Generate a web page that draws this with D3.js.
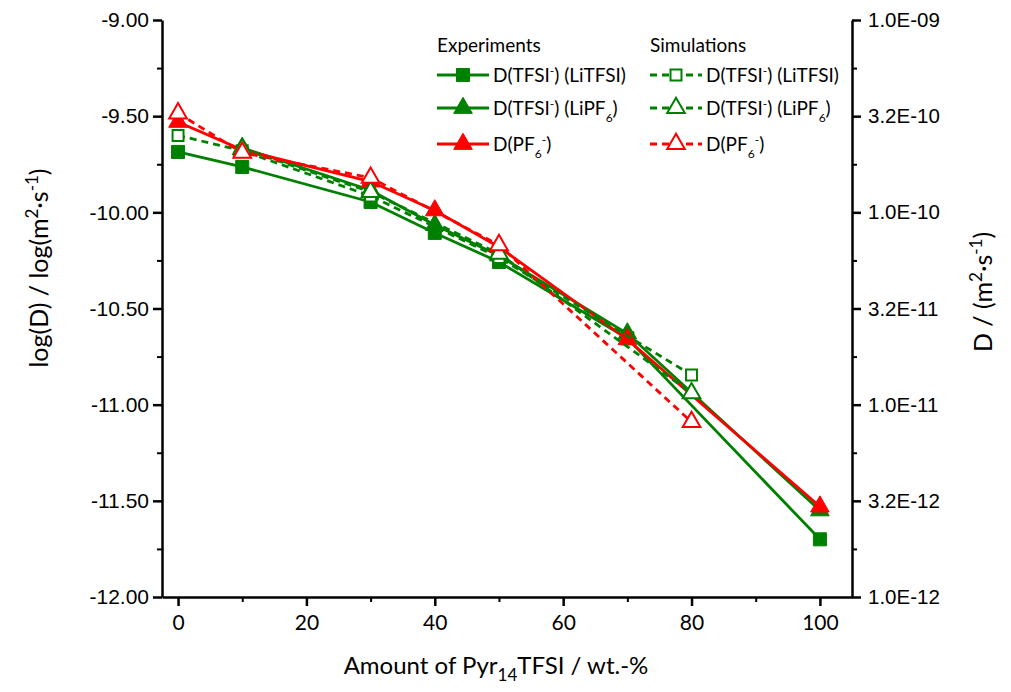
<!DOCTYPE html>
<html>
<head>
<meta charset="utf-8">
<script src="https://cdn.jsdelivr.net/npm/d3@7"></script>
<style>
  body { margin: 0; background: #fff; }
  svg { display: block; }
  .tick text { font-family: "Liberation Sans", Arial, sans-serif; }
</style>
</head>
<body>
<svg width="1011" height="692"></svg>
<script>
// ---- data (log10 D / m^2 s^-1) ----
var xExpLiTFSI = [0, 10, 30, 40, 50, 70, 100];
var yExpLiTFSI = [-9.686, -9.764, -9.946, -10.107, -10.258, -10.655, -11.70];

var xExpLiPF6 = [10, 30, 40, 50, 70, 100];
var yExpLiPF6 = [-9.665, -9.885, -10.066, -10.225, -10.63, -11.55];

var xExpPF6 = [0, 10, 30, 40, 50, 70, 100];
var yExpPF6 = [-9.53, -9.675, -9.84, -9.99, -10.18, -10.66, -11.53];

var xSimLiTFSI = [0, 10, 30, 50, 80];
var ySimLiTFSI = [-9.60, -9.68, -9.915, -10.235, -10.846];

var xSimLiPF6 = [10, 30, 50, 80];
var ySimLiPF6 = [-9.67, -9.894, -10.215, -10.94];

var xSimPF6 = [0, 10, 30, 50, 80];
var ySimPF6 = [-9.485, -9.69, -9.82, -10.17, -11.09];

var xTicks = [0, 20, 40, 60, 80, 100];
var yTicks = [-9, -9.5, -10, -10.5, -11, -11.5, -12];

var svg = d3.select("svg");
var green = "#008000", red = "#ff0000";

var x = d3.scaleLinear().domain([-2.5, 105]).range([162, 852]);
var y = d3.scaleLinear().domain([-12, -9]).range([597, 20]);
var yR = d3.scaleLog().domain([1e-12, 1e-9]).range([597, 20]);

// ---- axes ----
function styleAxis(g) {
    g.select(".domain").attr("stroke", "#000").attr("stroke-width", 2.5);
    g.selectAll(".tick line").attr("stroke", "#000").attr("stroke-width", 2.5);
    g.selectAll(".tick text").attr("fill", "#000");
}

var xMinor = svg.append("g").attr("transform", "translate(0,597)")
    .call(d3.axisBottom(x).tickValues([10, 30, 50, 70, 90]).tickSize(5).tickFormat(""));
xMinor.select(".domain").remove();
xMinor.selectAll(".tick line").attr("stroke", "#000").attr("stroke-width", 2);

var xAxis = svg.append("g").attr("transform", "translate(0,597)")
    .call(d3.axisBottom(x).tickValues(xTicks).tickSize(9).tickSizeOuter(0).tickPadding(9));
styleAxis(xAxis);
xAxis.selectAll(".tick text").style("font-family", "Lato, sans-serif").attr("font-size", 21);

var yMinor = svg.append("g").attr("transform", "translate(162,0)")
    .call(d3.axisLeft(y).tickValues([-9.25, -9.75, -10.25, -10.75, -11.25, -11.75]).tickSize(5).tickFormat(""));
yMinor.select(".domain").remove();
yMinor.selectAll(".tick line").attr("stroke", "#000").attr("stroke-width", 2);

var yAxis = svg.append("g").attr("transform", "translate(162,0)")
    .call(d3.axisLeft(y).tickValues(yTicks).tickSize(9).tickSizeOuter(0).tickPadding(4)
        .tickFormat(function(d) { return d.toFixed(2); }));
styleAxis(yAxis);
yAxis.selectAll(".tick text").attr("font-size", 21);

var rMajor = yTicks.map(function(v) { return Math.pow(10, v); });
var rMinor = [-9.25, -9.75, -10.25, -10.75, -11.25, -11.75].map(function(v) { return Math.pow(10, v); });

function sciFmt(d) {
    var e = Math.floor(Math.log10(d) + 1e-9);
    var m = d / Math.pow(10, e);
    var es = Math.abs(e) < 10 ? "0" + Math.abs(e) : "" + Math.abs(e);
    return m.toFixed(1) + "E" + (e < 0 ? "-" : "+") + es;
}

var rMin = svg.append("g").attr("transform", "translate(852,0)")
    .call(d3.axisRight(yR).tickValues(rMinor).tickSize(5).tickFormat(""));
rMin.select(".domain").remove();
rMin.selectAll(".tick line").attr("stroke", "#000").attr("stroke-width", 2);

var rAxis = svg.append("g").attr("transform", "translate(852,0)")
    .call(d3.axisRight(yR).tickValues(rMajor).tickSize(9).tickSizeOuter(0).tickPadding(7).tickFormat(sciFmt));
styleAxis(rAxis);
rAxis.selectAll(".tick text").attr("font-size", 20.5);

// ---- axis titles ----
var xt = svg.append("text").attr("x", 496).attr("y", 674).attr("text-anchor", "middle")
    .style("font-family", "Lato, sans-serif").attr("font-size", 24);
xt.append("tspan").text("Amount of Pyr");
xt.append("tspan").attr("font-size", 17).attr("dy", 7).text("14");
xt.append("tspan").attr("dy", -7).text("TFSI / wt.-%");

var lt = svg.append("text").attr("transform", "translate(48,268) rotate(-90)").attr("text-anchor", "middle")
    .style("font-family", "Lato, sans-serif").attr("font-size", 25);
lt.append("tspan").text("log(D) / log(m");
lt.append("tspan").attr("font-size", 17).attr("dy", -10).text("2");
lt.append("tspan").attr("dy", 10).text("\u00b7s");
lt.append("tspan").attr("font-size", 17).attr("dy", -10).text("-1");
lt.append("tspan").attr("dy", 10).text(")");

var rt = svg.append("text").attr("transform", "translate(992,292) rotate(-90)").attr("text-anchor", "middle")
    .style("font-family", "Lato, sans-serif").attr("font-size", 25);
rt.append("tspan").text("D / (m");
rt.append("tspan").attr("font-size", 17).attr("dy", -10).text("2");
rt.append("tspan").attr("dy", 10).text("\u00b7s");
rt.append("tspan").attr("font-size", 17).attr("dy", -10).text("-1");
rt.append("tspan").attr("dy", 10).text(")");

// ---- series ----
var series = [
    {xs: xExpLiTFSI, ys: yExpLiTFSI, color: green, dash: null, shape: d3.symbolSquare, size: 170, open: false},
    {xs: xExpLiPF6, ys: yExpLiPF6, color: green, dash: null, shape: d3.symbolTriangle, size: 150, open: false},
    {xs: xExpPF6, ys: yExpPF6, color: red, dash: null, shape: d3.symbolTriangle, size: 150, open: false},
    {xs: xSimLiTFSI, ys: ySimLiTFSI, color: green, dash: "7,5", shape: d3.symbolSquare, size: 120, open: true},
    {xs: xSimLiPF6, ys: ySimLiPF6, color: green, dash: "7,5", shape: d3.symbolTriangle, size: 135, open: true},
    {xs: xSimPF6, ys: ySimPF6, color: red, dash: "7,5", shape: d3.symbolTriangle, size: 135, open: true}
];

var line = d3.line().x(function(d) { return x(d[0]); }).y(function(d) { return y(d[1]); });

series.forEach(function(s) {
    var pts = s.xs.map(function(v, i) { return [v, s.ys[i]]; });
    svg.append("path").datum(pts).attr("d", line)
        .attr("fill", "none").attr("stroke", s.color).attr("stroke-width", 2.8)
        .attr("stroke-dasharray", s.dash);
    svg.selectAll(null).data(pts).enter().append("path")
        .attr("transform", function(d) { return "translate(" + x(d[0]) + "," + y(d[1]) + ")"; })
        .attr("d", d3.symbol().type(s.shape).size(s.size))
        .attr("fill", s.open ? "#fff" : s.color)
        .attr("stroke", s.color).attr("stroke-width", s.open ? 2 : 1);
});

// ---- legend ----
var legFont = "Lato, sans-serif";
svg.append("text").attr("x", 437).attr("y", 52).style("font-family", legFont)
    .attr("font-size", 19).text("Experiments");
svg.append("text").attr("x", 650).attr("y", 52).style("font-family", legFont)
    .attr("font-size", 19).text("Simulations");

var legRows = [75, 108, 144];
var legLabels = [
    [["D(TFSI", 0], ["-", -7], [") (LiTFSI)", 7]],
    [["D(TFSI", 0], ["-", -7], [") (LiPF", 7], ["6", 7], [")", -7]],
    [["D(PF", 0], ["6", 7], ["-", -14], [")", 7]]
];

series.forEach(function(s, i) {
    var col = i < 3 ? 437 : 650;
    var row = legRows[i % 3];
    var g = svg.append("g");
    g.append("line").attr("x1", col).attr("x2", col + 52).attr("y1", row).attr("y2", row)
        .attr("stroke", s.color).attr("stroke-width", 2.8).attr("stroke-dasharray", s.dash);
    g.append("path").attr("transform", "translate(" + (col + 26) + "," + row + ")")
        .attr("d", d3.symbol().type(s.shape).size(s.size))
        .attr("fill", s.open ? "#fff" : s.color)
        .attr("stroke", s.color).attr("stroke-width", s.open ? 2 : 1);
    var t = g.append("text").attr("x", col + 56).attr("y", row + 7)
        .style("font-family", legFont).attr("font-size", 19);
    legLabels[i % 3].forEach(function(p) {
        var small = p[0] === "-" || p[0] === "6";
        t.append("tspan").attr("dy", p[1]).attr("font-size", small ? 12 : 19).text(p[0]);
    });
});
</script>
</body>
</html>
